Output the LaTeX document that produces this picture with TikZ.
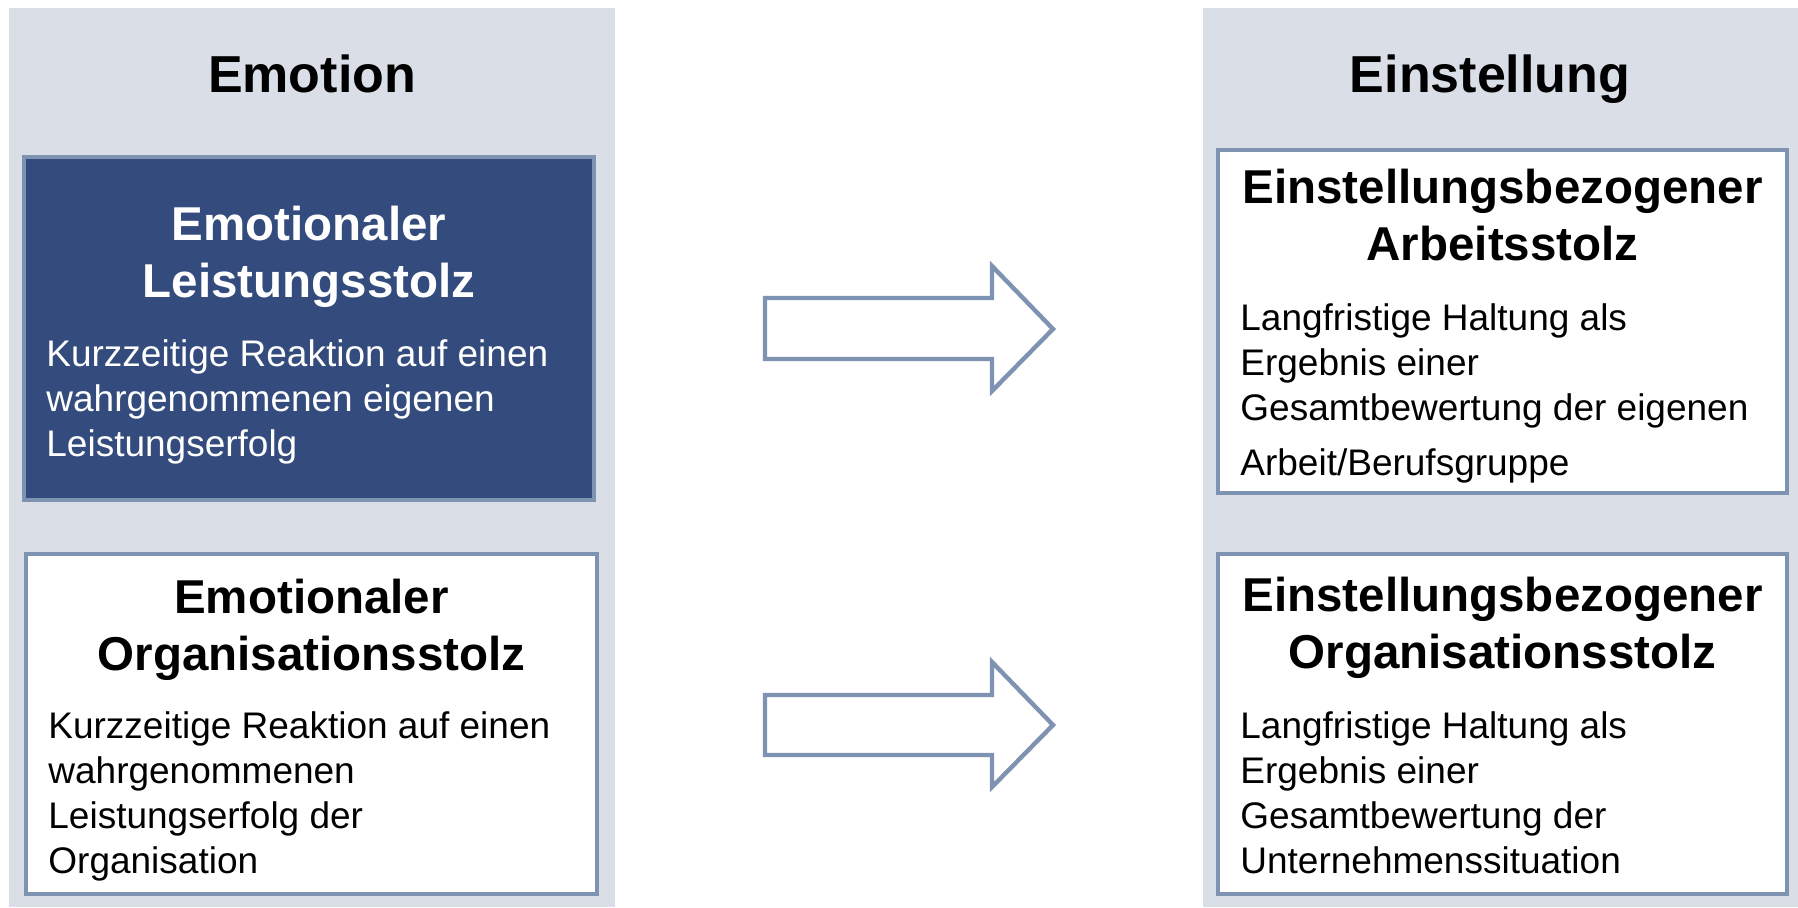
\documentclass[tikz,border=0pt]{standalone}
\usepackage{fontspec}
\setmainfont{Liberation Sans}
\definecolor{panelgray}{RGB}{217,222,231}
\definecolor{navy}{RGB}{52,75,125}
\definecolor{framec}{RGB}{126,146,177}
\begin{document}
\begin{tikzpicture}[x=0.5pt,y=-0.5pt,
  panel/.style={fill=panelgray},
  boxs/.style={draw=framec, line width=2pt, rectangle, inner sep=0pt},
  header/.style={font=\fontsize{26}{31}\selectfont\bfseries, anchor=base, inner sep=0pt},
  titles/.style={font=\fontsize{23.75}{28.5}\selectfont\bfseries, anchor=base, align=center, inner sep=0pt},
  bodys/.style={font=\fontsize{18.5}{22.5}\selectfont, anchor=base west, align=left, inner sep=0pt},
  blockarrow/.style={draw=framec, line width=2.2pt, fill=white, line join=miter}
]
\useasboundingbox (0,0) rectangle (1798,907);
\fill[white] (0,0) rectangle (1798,907);
% panels
\fill[panel] (9,8) rectangle (615,907);
\fill[panel] (1203,8) rectangle (1798,907);
% headers
\node[header] (hE) at (312,92) {Emotion};
\node[header] (hA) at (1490,92) {Einstellung};
% boxes
\node[boxs, fill=navy, minimum width=285pt, minimum height=171.5pt] (b1) at (309,328.5) {};
\node[boxs, fill=white, minimum width=285.5pt, minimum height=170pt] (b2) at (311.5,724) {};
\node[boxs, fill=white, minimum width=284.5pt, minimum height=171.5pt] (b3) at (1502.5,321.5) {};
\node[boxs, fill=white, minimum width=284.5pt, minimum height=170pt] (b4) at (1502.5,724) {};
% texts (anchored at the baseline of their last line)
\node[titles, text=white] (t1) at (309,297) {Emotionaler\\Leistungsstolz};
\node[bodys, text=white] (d1) at (46,456) {Kurzzeitige Reaktion auf einen\\wahrgenommenen eigenen\\Leistungserfolg};
\node[titles] (t2) at (311.5,670) {Emotionaler\\Organisationsstolz};
\node[bodys] (d2) at (48,873) {Kurzzeitige Reaktion auf einen\\wahrgenommenen\\Leistungserfolg der\\Organisation};
\node[titles] (t3) at (1502.5,260) {Einstellungsbezogener\\Arbeitsstolz};
\node[bodys] (d3) at (1240,475) {Langfristige Haltung als\\Ergebnis einer\\Gesamtbewertung der eigenen\\[5pt]Arbeit/Berufsgruppe};
\node[titles] (t4) at (1502.5,668) {Einstellungsbezogener\\Organisationsstolz};
\node[bodys] (d4) at (1240,873) {Langfristige Haltung als\\Ergebnis einer\\Gesamtbewertung der\\Unternehmenssituation};
% block arrows
\draw[blockarrow] (765,298) -- (992,298) -- (992,266) -- (1053,329) -- (992,391) -- (992,359) -- (765,359) -- cycle;
\draw[blockarrow] (765,695) -- (992,695) -- (992,662) -- (1053,725) -- (992,787) -- (992,755) -- (765,755) -- cycle;
\end{tikzpicture}
\end{document}
